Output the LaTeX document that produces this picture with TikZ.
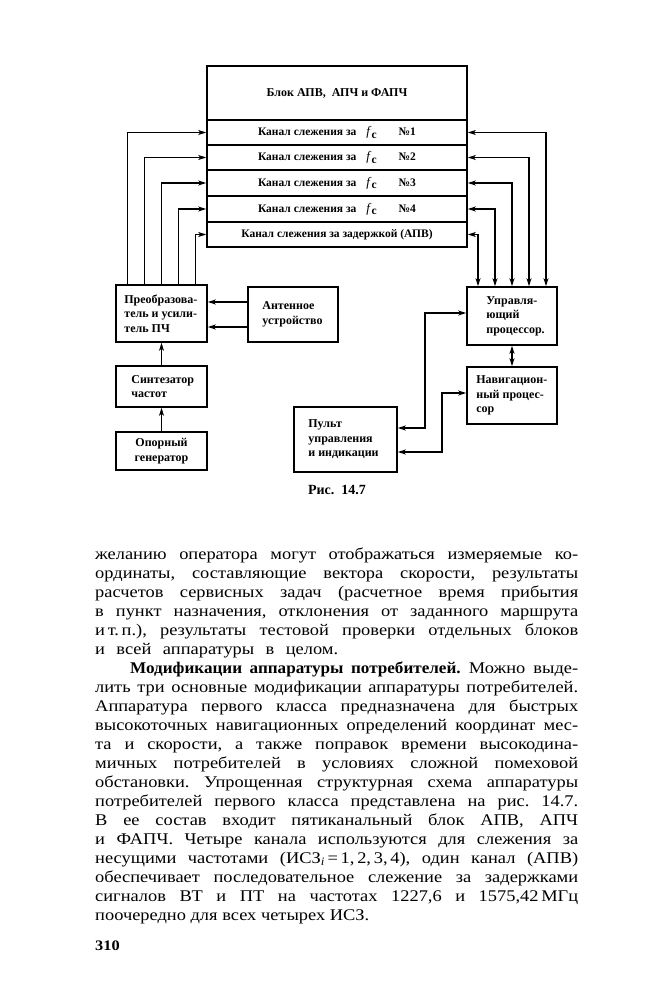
\documentclass[tikz,border=0pt]{standalone}
\usepackage{fontspec}
\setmainfont{Liberation Serif}[FakeStretch=1.13]
\newfontfamily\dfont{Liberation Serif}
\newfontfamily\bodybold{Liberation Serif}[FakeStretch=1.05]
\usetikzlibrary{arrows.meta}
\frenchspacing
\begin{document}
\begin{tikzpicture}[x=1pt,y=-1pt,
  box/.style={draw,line width=1.6pt,inner sep=0pt},
  lbl/.style={font=\dfont\bfseries\fontsize{12}{14.5}\selectfont,align=left,inner sep=0pt,anchor=west},
  rowtxt/.style={font=\dfont\bfseries\fontsize{11.5}{13}\selectfont},
  tip/.tip={Stealth[length=8pt,width=5pt,inset=2.2pt]},
  con/.style={line width=1.6pt,-tip},
  bcon/.style={line width=1.6pt,tip-tip},
  txt/.style={anchor=base west,inner sep=0pt,font=\fontsize{16.3}{19}\selectfont}
]
\useasboundingbox (0,0) rectangle (665,1000);
\fill[white] (0,0) rectangle (665,1000);

% main block
\node[box,minimum width=260pt,minimum height=54pt,font=\dfont\bfseries\fontsize{12}{14}\selectfont] (head) at (337,93) {Блок АПВ,\hspace{6pt}АПЧ и ФАПЧ};
\node[box,rowtxt,minimum width=260pt,minimum height=25pt] (r1) at (337,132.5) {Канал слежения за\hspace{10pt}{\mdseries\itshape\fontsize{13}{13}\selectfont f}\hspace{1.5pt}\raisebox{-2.5pt}{c}\hspace{22pt}№1};
\node[box,rowtxt,minimum width=260pt,minimum height=25pt] (r2) at (337,157.5) {Канал слежения за\hspace{10pt}{\mdseries\itshape\fontsize{13}{13}\selectfont f}\hspace{1.5pt}\raisebox{-2.5pt}{c}\hspace{22pt}№2};
\node[box,rowtxt,minimum width=260pt,minimum height=26pt] (r3) at (337,183) {Канал слежения за\hspace{10pt}{\mdseries\itshape\fontsize{13}{13}\selectfont f}\hspace{1.5pt}\raisebox{-2.5pt}{c}\hspace{22pt}№3};
\node[box,rowtxt,minimum width=260pt,minimum height=26pt] (r4) at (337,209) {Канал слежения за\hspace{10pt}{\mdseries\itshape\fontsize{13}{13}\selectfont f}\hspace{1.5pt}\raisebox{-2.5pt}{c}\hspace{22pt}№4};
\node[box,rowtxt,minimum width=260pt,minimum height=25pt] (r5) at (337,234.5) {Канал слежения за задержкой (АПВ)};

% left boxes
\node[box,minimum width=91pt,minimum height=57pt] (preob) at (161.5,313.5) {};
\node[lbl] (preobt) at ([xshift=9pt]preob.west) {Преобразова-\\тель и усили-\\тель ПЧ};
\node[box,minimum width=90pt,minimum height=55pt] (ant) at (293,314.5) {};
\node[lbl] (antt) at ([xshift=15pt]ant.west) {Антенное\\устройство};
\node[box,minimum width=91pt,minimum height=41pt] (synth) at (161.5,386.5) {};
\node[lbl] (syntht) at ([xshift=16pt]synth.west) {Синтезатор\\частот};
\node[box,minimum width=91pt,minimum height=38pt] (opor) at (161.5,451) {};
\node[lbl,anchor=center,align=center] (oport) at (opor.center) {Опорный\\генератор};

% right boxes
\node[box,minimum width=90pt,minimum height=58pt] (proc) at (512,316) {};
\node[lbl] (proct) at ([xshift=20pt]proc.west) {Управля-\\ющий\\процессор.};
\node[box,minimum width=90pt,minimum height=57pt] (nav) at (512,395.5) {};
\node[lbl] (navt) at ([xshift=10pt]nav.west) {Навигацион-\\ный процес-\\сор};
\node[box,minimum width=103pt,minimum height=65pt] (pult) at (345.5,439.5) {};
\node[lbl] (pultt) at ([xshift=15pt]pult.west) {Пульт\\управления\\и индикации};

% left connectors
\draw[con] ([xshift=-34pt]preob.north) |- (r1.west);
\draw[con] ([xshift=-17pt]preob.north) |- (r2.west);
\draw[con] (preob.north) |- (r3.west);
\draw[con] ([xshift=17pt]preob.north) |- (r4.west);
\draw[con] ([xshift=34pt]preob.north) |- (r5.west);

% right connectors
\draw[bcon] (r1.east) -| ([xshift=34pt]proc.north);
\draw[bcon] (r2.east) -| ([xshift=17pt]proc.north);
\draw[bcon] (r3.east) -| (proc.north);
\draw[bcon] (r4.east) -| ([xshift=-17pt]proc.north);
\draw[bcon] (r5.east) -| ([xshift=-34pt]proc.north);

% antenna
\coordinate (a1) at ([yshift=12.5pt]ant.west);
\coordinate (a2) at ([yshift=-12.5pt]ant.west);
\draw[con] (a1) -- (a1 -| preob.east);
\draw[con] (a2) -- (a2 -| preob.east);
\draw[con] (synth.north) -- (preob.south);
\draw[con] (opor.north) -- (synth.south);
\draw[bcon] (proc.south) -- (nav.north);

% pult
\coordinate (p1) at ([yshift=11.5pt]pult.east);
\coordinate (k1) at (425,313);
\draw[bcon] (p1) -| (k1) -- (k1 -| proc.west);
\coordinate (p2) at ([yshift=-12.5pt]pult.east);
\coordinate (k2) at (442,393);
\draw[bcon] (p2) -| (k2) -- (k2 -| nav.west);

\node[font=\dfont\bfseries\fontsize{14}{16}\selectfont] (cap) at (337,490) {Рис.\hspace{7pt}14.7};

% body text
\node[txt] (l1) at (95,559) {\makebox[483pt][s]{желанию оператора могут отображаться измеряемые ко-}};
\node[txt] (l2) at (95,578) {\makebox[483pt][s]{ординаты, составляющие вектора скорости, результаты}};
\node[txt] (l3) at (95,597) {\makebox[483pt][s]{расчетов сервисных задач (расчетное время прибытия}};
\node[txt] (l4) at (95,616) {\makebox[483pt][s]{в пункт назначения, отклонения от заданного маршрута}};
\node[txt] (l5) at (95,635) {\makebox[483pt][s]{и\,т.\,п.), результаты тестовой проверки отдельных блоков}};
\node[txt] (l6) at (95,654) {\makebox[243pt][s]{и всей аппаратуры в целом.}};
\node[txt] (l7) at (130,673) {\makebox[448pt][s]{{\bodybold\bfseries Модификации аппаратуры потребителей.} Можно выде-}};
\node[txt] (l8) at (95,692) {\makebox[483pt][s]{лить три основные модификации аппаратуры потребителей.}};
\node[txt] (l9) at (95,711) {\makebox[483pt][s]{Аппаратура первого класса предназначена для быстрых}};
\node[txt] (l10) at (95,730) {\makebox[483pt][s]{высокоточных навигационных определений координат мес-}};
\node[txt] (l11) at (95,749) {\makebox[483pt][s]{та и скорости, а также поправок времени высокодина-}};
\node[txt] (l12) at (95,768) {\makebox[483pt][s]{мичных потребителей в условиях сложной помеховой}};
\node[txt] (l13) at (95,787) {\makebox[483pt][s]{обстановки. Упрощенная структурная схема аппаратуры}};
\node[txt] (l14) at (95,806) {\makebox[483pt][s]{потребителей первого класса представлена на рис. 14.7.}};
\node[txt] (l15) at (95,825) {\makebox[483pt][s]{В ее состав входит пятиканальный блок АПВ, АПЧ}};
\node[txt] (l16) at (95,844) {\makebox[483pt][s]{и ФАПЧ. Четыре канала используются для слежения за}};
\node[txt] (l17) at (95,863) {\makebox[483pt][s]{несущими частотами (ИСЗ\textsubscript{\itshape i}\,=\,1,\,2,\,3,\,4), один канал (АПВ)}};
\node[txt] (l18) at (95,882) {\makebox[483pt][s]{обеспечивает последовательное слежение за задержками}};
\node[txt] (l19) at (95,901) {\makebox[483pt][s]{сигналов ВТ и ПТ на частотах 1227,6 и 1575,42\,МГц}};
\node[txt] (l20) at (95,920) {поочередно для всех четырех ИСЗ.};

\node[anchor=base west,inner sep=0pt,font=\bfseries\fontsize{14.5}{16}\selectfont] (pg) at (95,950) {310};
\end{tikzpicture}
\end{document}
